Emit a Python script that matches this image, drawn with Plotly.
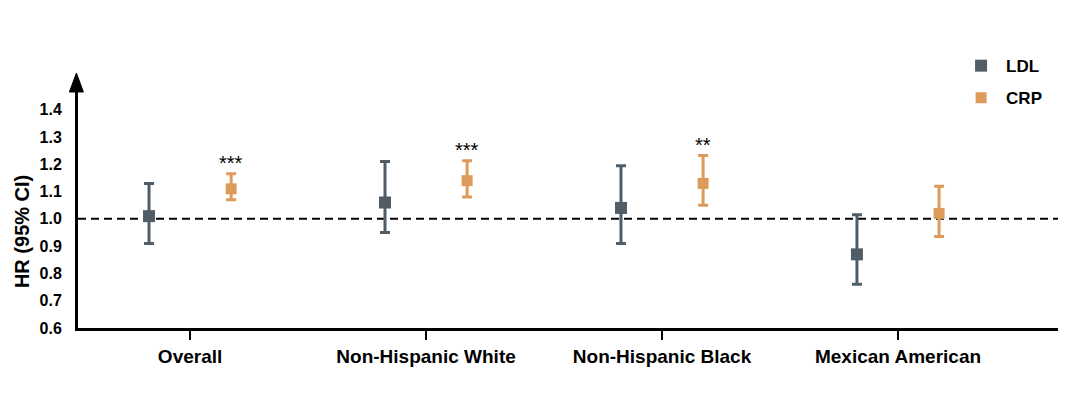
import plotly.graph_objects as go

categories = ["Overall", "Non-Hispanic White", "Non-Hispanic Black", "Mexican American"]
ldl_hr = [1.01, 1.06, 1.04, 0.87]
ldl_lo = [0.91, 0.95, 0.91, 0.76]
ldl_hi = [1.13, 1.21, 1.195, 1.015]
crp_hr = [1.11, 1.14, 1.13, 1.02]
crp_lo = [1.07, 1.08, 1.05, 0.935]
crp_hi = [1.165, 1.213, 1.232, 1.12]
crp_sig = ["***", "***", "**", ""]

LDL_COLOR = "#505d67"
CRP_COLOR = "#dd9b5b"
FONT = "Liberation Sans, Arial, sans-serif"

pos = list(range(len(categories)))
off = 0.174

fig = go.Figure()
fig.add_trace(go.Scatter(
    x=[p - off for p in pos], y=ldl_hr, mode="markers", name="LDL", legendgroup="a",
    marker=dict(symbol="square", size=12, color=LDL_COLOR),
    error_y=dict(type="data", symmetric=False,
                 array=[h - m for h, m in zip(ldl_hi, ldl_hr)],
                 arrayminus=[m - l for m, l in zip(ldl_hr, ldl_lo)],
                 color=LDL_COLOR, thickness=3, width=5),
))
fig.add_trace(go.Scatter(
    x=[p + off for p in pos], y=crp_hr, mode="markers", name="CRP", legendgroup="b",
    marker=dict(symbol="square", size=11, color=CRP_COLOR),
    error_y=dict(type="data", symmetric=False,
                 array=[h - m for h, m in zip(crp_hi, crp_hr)],
                 arrayminus=[m - l for m, l in zip(crp_hr, crp_lo)],
                 color=CRP_COLOR, thickness=3, width=5),
))

for p, hi, s in zip(pos, crp_hi, crp_sig):
    if s:
        fig.add_annotation(x=p + off, y=hi, text=s, showarrow=False,
                           yanchor="bottom", yshift=-2,
                           font=dict(family=FONT, size=20, color="black"))

# y axis title (placed like the original, slightly below the axis centre)
fig.add_annotation(xref="paper", yref="y", x=-0.057, y=0.952, text="HR (95% CI)",
                   textangle=-90, showarrow=False, xanchor="center", yanchor="middle",
                   font=dict(family=FONT, size=20, color="black", weight="bold"))

# reference line at HR = 1
fig.add_shape(type="line", xref="paper", x0=0, x1=1, yref="y", y0=1.0, y1=1.0,
              line=dict(color="black", width=2, dash="8px,5px"), layer="below")

# arrow head on y axis
fig.add_shape(type="path", xref="paper", yref="paper",
              path="M -0.0088 1.0 L 0.0055 1.0 L -0.0016 1.0805 Z",
              fillcolor="black", line=dict(color="black", width=1))

fig.update_layout(
    width=1058, height=389,
    margin=dict(l=70, r=8, t=84, b=69),
    plot_bgcolor="white", paper_bgcolor="white",
    font=dict(family=FONT, color="black"),
    showlegend=True,
    legend=dict(x=0.896, y=1.186, xanchor="left", yanchor="top",
                traceorder="grouped", tracegroupgap=7,
                font=dict(family=FONT, size=17, color="black", weight="bold"),
                itemwidth=40, bgcolor="rgba(0,0,0,0)"),
    xaxis=dict(range=[-0.475, 3.678], tickvals=pos, ticktext=categories,
               showline=True, linecolor="black", linewidth=3,
               ticks="outside", ticklen=9, tickwidth=2, tickcolor="black",
               showgrid=False, zeroline=False, automargin=False,
               tickfont=dict(family=FONT, size=19, color="black", weight="bold")),
    yaxis=dict(range=[0.6, 1.465], tickvals=[0.6, 0.7, 0.8, 0.9, 1.0, 1.1, 1.2, 1.3, 1.4],
               ticktext=["0.6", "0.7", "0.8", "0.9", "1.0", "1.1", "1.2", "1.3", "1.4"],
               showline=True, linecolor="black", linewidth=3,
               ticks="", ticklabelstandoff=10,
               showgrid=False, zeroline=False, automargin=False,
               tickfont=dict(family=FONT, size=16, color="black", weight="bold")),
)

fig.write_html("out.html")
